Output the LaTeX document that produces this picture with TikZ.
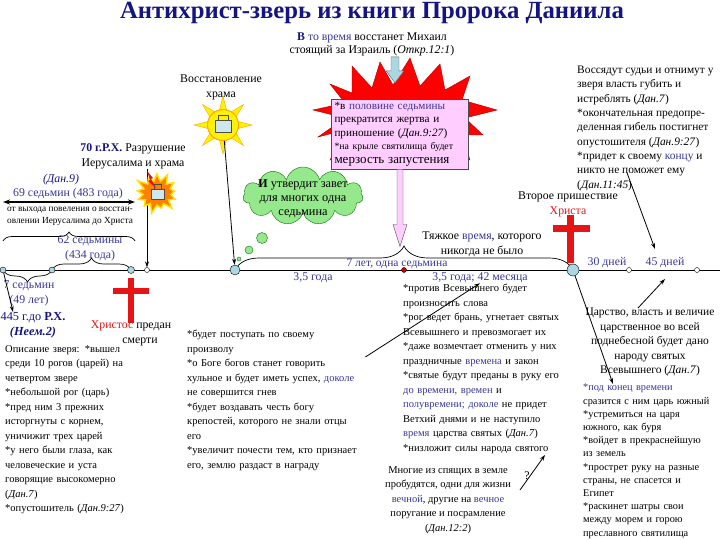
\documentclass[tikz,border=0pt]{standalone}
\usepackage{fontspec}
\setmainfont{Liberation Serif}
\usetikzlibrary{arrows.meta, positioning, shapes.symbols, decorations.pathreplacing, backgrounds}

\definecolor{navy}{RGB}{20,20,130}
\definecolor{tblue}{RGB}{55,55,150}
\definecolor{crossred}{RGB}{230,20,20}
\definecolor{skyb}{RGB}{170,215,225}
\definecolor{pinkbox}{RGB}{255,205,255}
\definecolor{cloudg}{RGB}{150,232,140}

% one justified line and one ragged line of a block
\newcommand{\jl}[1]{\hbox to \hsize{#1}}
\newcommand{\rl}[1]{\hbox to \hsize{#1\hfil}}

\tikzset{
  txt/.style={inner sep=0pt, font=\fontsize{10.5}{14.5}\selectfont},
  blk/.style={txt, anchor=north west},
  big/.style={txt, align=center, font=\fontsize{11.8}{15}\selectfont},
  lbl/.style={big, text=tblue},
  conn/.style={-{Stealth[length=6pt,width=4pt]}, line width=0.8pt},
  knot/.style={circle, draw, fill=white, inner sep=0pt, minimum size=5pt},
  bigknot/.style={knot, fill=skyb, minimum size=#1},
  brc/.style={decorate, decoration={brace, amplitude=#1}, line width=0.7pt},
  lock/.style={fill=skyb!60, draw=black!70},
}

\begin{document}
\begin{tikzpicture}[x=1pt, y=-1pt]
\useasboundingbox (0,0) rectangle (720,540);

% title and Michael
\node[font=\fontsize{24.7}{28}\selectfont\bfseries, text=navy] (title) at (372,13) {Антихрист-зверь из книги Пророка Даниила};
\node[big, font=\fontsize{11.8}{13}\selectfont] (michael) at (372,44)
  {\textbf{\textcolor{navy}{В}} \textcolor{tblue}{то время} восстанет Михаил\\ стоящий за Израиль (\textit{Откр.12:1})};

% timeline
\draw[line width=0.8pt] (0,270) -- (720,270);
\node[bigknot=6pt] (c1) at (3,270) {};
\node[bigknot=6pt] (c2) at (52,270) {};
\node[bigknot=7pt] (c3) at (131,270) {};
\node[knot] (c4) at (147,270) {};
\node[bigknot=10pt] (c5) at (235,270) {};
\node[knot, fill=red!80!black] (mid) at (404,270) {};
\node[bigknot=12pt] (c7) at (573,270) {};
\node[knot] (c8) at (629,270) {};
\node[knot] (c9) at (697,270) {};

\begin{pgfonlayer}{background}
  \draw[brc=24pt] (c5.center) -- (c7.center);
  \draw[brc=12pt] (c2.center) -- (c3.center);
  \draw[brc=12pt] (c2.center) -- (c1.center);
  \draw[brc=9pt] (3,241) -- (135,241);
\end{pgfonlayer}

% labels on the timeline
\node[lbl, font=\fontsize{11.5}{14}\selectfont] (week) at (397,264) {7 лет, одна седьмина};
\node[lbl] (halfa) at (313,278) {3,5 года};
\node[lbl] (halfb) at (480,278) {3,5 года; 42 месяца};
\node[lbl] (d30) at (607,263) {30 дней};
\node[lbl] (d45) at (665,263) {45 дней};
\node[lbl] (w62) at (90,248) {62 седьмины\\ (434 года)};
\node[lbl] (w7) at (29,293) {7 седьмин\\ (49 лет)};
\node[lbl, text=navy, font=\fontsize{12.3}{15}\selectfont] (start) at (33,325) {445 г.до \textbf{Р.Х.}\\ \textbf{\textit{(Неем.2)}}};
\node[lbl, text=navy, font=\fontsize{11.8}{14}\selectfont\itshape] (dan9) at (61,180) {(Дан.9)};
\node[lbl] (w69) at (68,194) {69 седьмин (483 года)};
\coordinate (dl) at (3,202);
\coordinate (dr) at (135,202);
\draw[{Stealth[length=7pt,width=5pt]}-{Stealth[length=7pt,width=5pt]}, line width=1.4pt] (dl) -- (dr);
\node[txt, align=center, font=\fontsize{9.3}{12}\selectfont] (decree) at (70,216)
  {от выхода повеления о восстан-\\ овлении Иерусалима до Христа};

% destruction of Jerusalem
\node[big] (destr) at (133,156) {\textbf{\textcolor{navy}{70 г.Р.Х.}} Разрушение\\ Иерусалима и храма};
\begin{pgfonlayer}{background}
  \draw[conn] (destr.south -| c4) -- (c4);
\end{pgfonlayer}
\node[starburst, fill=orange, draw=yellow!85!orange, line width=1.5pt, minimum width=48pt, minimum height=44pt,
  starburst points=13, starburst point height=10pt] (ruin) at (157,193) {};
\draw[lock] (151,189) rectangle (164,199);
\draw[black!70, line width=1pt] (154,189) -- (154,185) -- (161,185) -- (161,189);
\fill[crossred] (147,171) -- (153,178) -- (151,179) -- (156,188) -- (148,181) -- (150,180) -- cycle;

% restoration of the temple
\begin{scope}[shift={(223,125)}]
  \foreach \a in {0,45,...,315}
    \draw[fill=yellow, draw=orange!70!yellow] (\a-14:15) -- (\a:29) -- (\a+14:15) -- cycle;
\end{scope}
\node[circle, fill=yellow, draw=orange!70!yellow, line width=1pt, minimum size=31pt] (sun) at (223,125) {};
\draw[lock] (215,120) rectangle (231,132);
\draw[black!70, line width=1pt] (218,120) -- (218,116) -- (228,116) -- (228,120);
\node[big] (restore) at (221,87) {Восстановление\\ храма};
\draw[conn] (sun) -- (c5);

% covenant cloud
\node[cloud, cloud puffs=11, aspect=2.2, fill=cloudg, draw=green!45!black, minimum width=120pt, minimum height=58pt] (cov) at (303,196) {};
\node[txt, align=center, font=\fontsize{12.3}{14}\selectfont] (covtxt) at ([yshift=-3pt]cov.center) {\textbf{\large И} утвердит завет\\ для многих одна\\ седьмина};
\draw[fill=cloudg, draw=green!45!black] (262,238) circle (5.5);
\draw[fill=cloudg, draw=green!45!black] (249,250) circle (4);
\draw[fill=cloudg, draw=green!45!black] (239,259) circle (2);

% abomination
\draw[fill=red, draw=red!70!black] (313,110) -- (345,103) -- (330,84) -- (352,93) -- (352,66) -- (372,88)
  -- (380,62) -- (393,85) -- (410,58) -- (420,86) -- (440,64) -- (445,90) -- (470,76) -- (462,100)
  -- (497,110) -- (465,118) -- (483,135) -- (462,135) -- (470,160) -- (400,150) -- (330,160)
  -- (345,130) -- (318,137) -- (345,118) -- cycle;
\node[blk, anchor=center, draw=black!70, fill=pinkbox, text width=131pt, inner sep=3pt,
  font=\fontsize{11.2}{13.6}\selectfont] (halfweek) at (400,134) {%
  \jl{*в \textcolor{tblue}{половине седьмины}}
  \jl{прекратится жертва и}
  \rl{приношение (\textit{Дан.9:27})}
  \jl{{\fontsize{9.8}{12}\selectfont *на крыле святилища будет}}
  \rl{{\fontsize{13}{14}\selectfont мерзость запустения}}};
\draw[fill=skyb, draw=black!60] (michael.south) ++(19,1) -- ++(8,0) -- ++(0,14) -- ++(5,0) -- ++(-9,12) -- ++(-9,-12) -- ++(5,0) -- cycle;
\draw[fill=pinkbox, draw=black!70] (halfweek.south) ++(-3,0) -- ++(0,55) -- ++(-4,0) -- ++(7,22) -- ++(7,-22) -- ++(-4,0) -- ++(0,-55) -- cycle;

% crosses
\fill[crossred] (128,278) rectangle (134,323);
\fill[crossred] (113,288) rectangle (149,294);
\fill[crossred] (567,215) rectangle (574,263);
\fill[crossred] (553,225) rectangle (590,232);
\node[big] (advent) at (568,204) {Второе пришествие\\ \textcolor{crossred}{Христа}};
\node[big] (death) at (131,333) {\textcolor{crossred}{Христос} предан\\ \hspace*{18pt}смерти};
\node[big] (tribul) at (482,244) {Тяжкое \textcolor{tblue}{время}, которого\\ никогда не было};

% text blocks
\node[blk, text width=163pt] (beast) at (5,345) {%
  \jl{Описание зверя: *вышел}
  \jl{среди 10 рогов (царей) на}
  \rl{четвертом звере}
  \rl{*небольшой рог (царь)}
  \jl{*пред ним 3 прежних}
  \jl{исторгнуты с корнем,}
  \rl{уничижит трех царей}
  \jl{*у него были глаза, как}
  \jl{человеческие и уста}
  \jl{говорящие высокомерно}
  \rl{(\textit{Дан.7})}
  \rl{*опустошитель (\textit{Дан.9:27})}};
\node[blk, text width=176pt] (reign) at (187,330) {%
  \jl{*будет поступать по своему}
  \rl{произволу}
  \jl{*о Боге богов станет говорить}
  \jl{хульное и будет иметь успех, \textcolor{tblue}{доколе}}
  \rl{не совершится гнев}
  \jl{*будет воздавать честь богу}
  \jl{крепостей, которого не знали отцы}
  \rl{его}
  \jl{*увеличит почести тем, кто признает}
  \rl{его, землю раздаст в награду}};
\node[blk, text width=166pt] (blasph) at (403,284) {%
  \jl{*против Всевышнего будет}
  \rl{произносить слова}
  \jl{*рог ведет брань, угнетает святых}
  \jl{Всевышнего и превозмогает их}
  \jl{*даже возмечтает отменить у них}
  \jl{праздничные \textcolor{tblue}{времена} и закон}
  \jl{*святые будут преданы в руку его}
  \jl{\textcolor{tblue}{до времени, времен} и}
  \jl{\textcolor{tblue}{полувремени;} \textcolor{tblue}{доколе} не придет}
  \jl{Ветхий днями и не наступило}
  \jl{\textcolor{tblue}{время} царства святых (\textit{Дан.7})}
  \rl{*низложит силы народа святого}};
\node[blk, text width=129pt, font=\fontsize{10.3}{13.2}\selectfont] (south) at (583,384) {%
  \jl{\textcolor{tblue}{*под конец времени}}
  \rl{сразится с ним царь южный}
  \jl{*устремиться на царя}
  \rl{южного, как буря}
  \jl{*войдет в прекраснейшую}
  \rl{из земель}
  \jl{*прострет руку на разные}
  \jl{страны, не спасется и}
  \rl{Египет}
  \jl{*раскинет шатры свои}
  \jl{между морем и горою}
  \rl{преславного святилища}};
\node[blk, align=left, font=\fontsize{11.4}{14.3}\selectfont] (judges) at (577,66) {Воссядут судьи и отнимут у\\ зверя власть губить и\\ истреблять (\textit{Дан.7})\\
  *окончательная предопре-\\ деленная гибель постигнет\\ опустошителя (\textit{Дан.9:27})\\
  *придет к своему \textcolor{tblue}{концу} и\\ никто не поможет ему\\ (\textit{Дан.11:45})};
\node[big, anchor=north, font=\fontsize{11.5}{14.5}\selectfont] (kingdom) at (650,308) {Царство, власть и величие\\ царственное во всей\\
  поднебесной будет дано\\ народу святых\\ Всевышнего (\textit{Дан.7})};
\node[txt, align=center, anchor=north] (awake) at (448,466) {Многие из спящих в земле\\ пробудятся, одни для жизни\\
  \textcolor{tblue}{вечной}, другие на \textcolor{tblue}{вечное}\\ поругание и посрамление\\ (\textit{Дан.12:2})};
\node[big] (quest) at (527,476) {?};

% connectors
\coordinate (judgeend) at (655,249);
\coordinate (kingend) at (665,279);
\coordinate (questa) at (520,490);
\coordinate (questb) at (545,455);
\draw[conn] (c1) -- ([xshift=-20pt]start.north);
\draw[conn] ([xshift=50pt, yshift=18pt]judges.south west) -- (judgeend);
\draw[conn] ([xshift=-12pt]kingdom.north) -- (kingend);
\draw[conn] (c7) -- ([xshift=30pt]south.north west);
\draw[conn] ([xshift=2pt, yshift=-27pt]reign.north east) -- (halfb.south);
\draw[conn] (questa) -- (questb);
\end{tikzpicture}
\end{document}
